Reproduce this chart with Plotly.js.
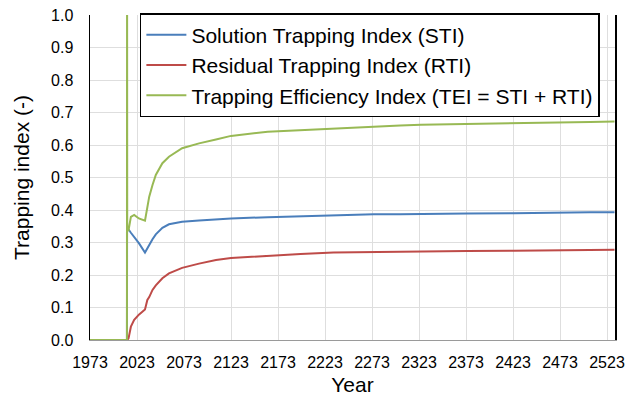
<!DOCTYPE html>
<html>
<head>
<meta charset="utf-8">
<script src="https://cdn.plot.ly/plotly-3.0.1.min.js"></script>
<style>html,body{margin:0;padding:0;background:#fff}#chart{width:641px;height:397px}</style>
</head>
<body>
<div id="chart"></div>
<script>
const years = [1973, 2012.3, 2012.45, 2012.6, 2014, 2016.5, 2020, 2025, 2031.5, 2034, 2036, 2039.5, 2043, 2050, 2057, 2071, 2089, 2107, 2123, 2162, 2197, 2232, 2275, 2303, 2325, 2374, 2424, 2477, 2505, 2531];
const sti = [0, 0, 0.344, 0.344, 0.340, 0.330, 0.317, 0.298, 0.269, 0.283, 0.292, 0.310, 0.325, 0.345, 0.356, 0.364, 0.368, 0.371, 0.374, 0.378, 0.381, 0.383, 0.387, 0.387, 0.388, 0.389, 0.390, 0.393, 0.393, 0.393];
const rti = [0, 0, 0, 0, 0.005, 0.041, 0.062, 0.078, 0.094, 0.123, 0.132, 0.154, 0.168, 0.190, 0.205, 0.222, 0.235, 0.246, 0.252, 0.260, 0.265, 0.269, 0.271, 0.271, 0.273, 0.274, 0.275, 0.276, 0.277, 0.278];
const tei = [0, 0, 1.2, 0.340, 0.338, 0.379, 0.385, 0.374, 0.367, 0.410, 0.441, 0.477, 0.508, 0.544, 0.564, 0.590, 0.605, 0.617, 0.628, 0.641, 0.646, 0.651, 0.658, 0.660, 0.662, 0.665, 0.667, 0.670, 0.671, 0.672];
const names = ["Solution Trapping Index (STI)", "Residual Trapping Index (RTI)", "Trapping Efficiency Index (TEI = STI + RTI)"];
const colors = ["#4a7ebb", "#be4b48", "#98b954"];

const font = "Liberation Sans, Arial, Helvetica, sans-serif";
const traces = [sti, rti, tei].map((v, i) => ({
  x: years, y: v, name: names[i], type: "scatter", mode: "lines",
  line: {color: colors[i], width: 2}
}));

const layout = {
  width: 641, height: 397,
  margin: {l: 90, r: 26, t: 15, b: 57},
  paper_bgcolor: "#fff", plot_bgcolor: "#fff",
  font: {family: font, color: "#000", size: 16},
  showlegend: true,
  legend: {
    x: 0.095, y: 1.006, xanchor: "left", yanchor: "top",
    bgcolor: "#fff", bordercolor: "#000", borderwidth: 1.5,
    font: {family: font, size: 21, color: "#000"},
    itemwidth: 40, tracegroupgap: 0
  },
  xaxis: {
    range: [1973, 2531.5], tick0: 1973, dtick: 50, tickmode: "linear",
    showgrid: true, gridcolor: "#dedede", gridwidth: 1,
    showline: true, linecolor: "#9a9a9a", linewidth: 1,
    zeroline: false, ticks: "", ticklabelstandoff: 8,
    tickfont: {family: font, size: 16},
    title: {text: "Year", font: {family: font, size: 21}, standoff: 7}
  },
  yaxis: {
    range: [0, 1], tick0: 0, dtick: 0.1, tickmode: "linear", tickformat: ".1f",
    showgrid: true, gridcolor: "#dedede", gridwidth: 1,
    showline: true, mirror: true, linecolor: "#000", linewidth: 1.5,
    zeroline: false, ticks: "", ticklabelstandoff: 12,
    tickfont: {family: font, size: 16},
    title: {text: "Trapping index (-)", font: {family: font, size: 21}, standoff: 15}
  }
};

Plotly.newPlot("chart", traces, layout, {displayModeBar: false, staticPlot: true});
</script>
</body>
</html>
